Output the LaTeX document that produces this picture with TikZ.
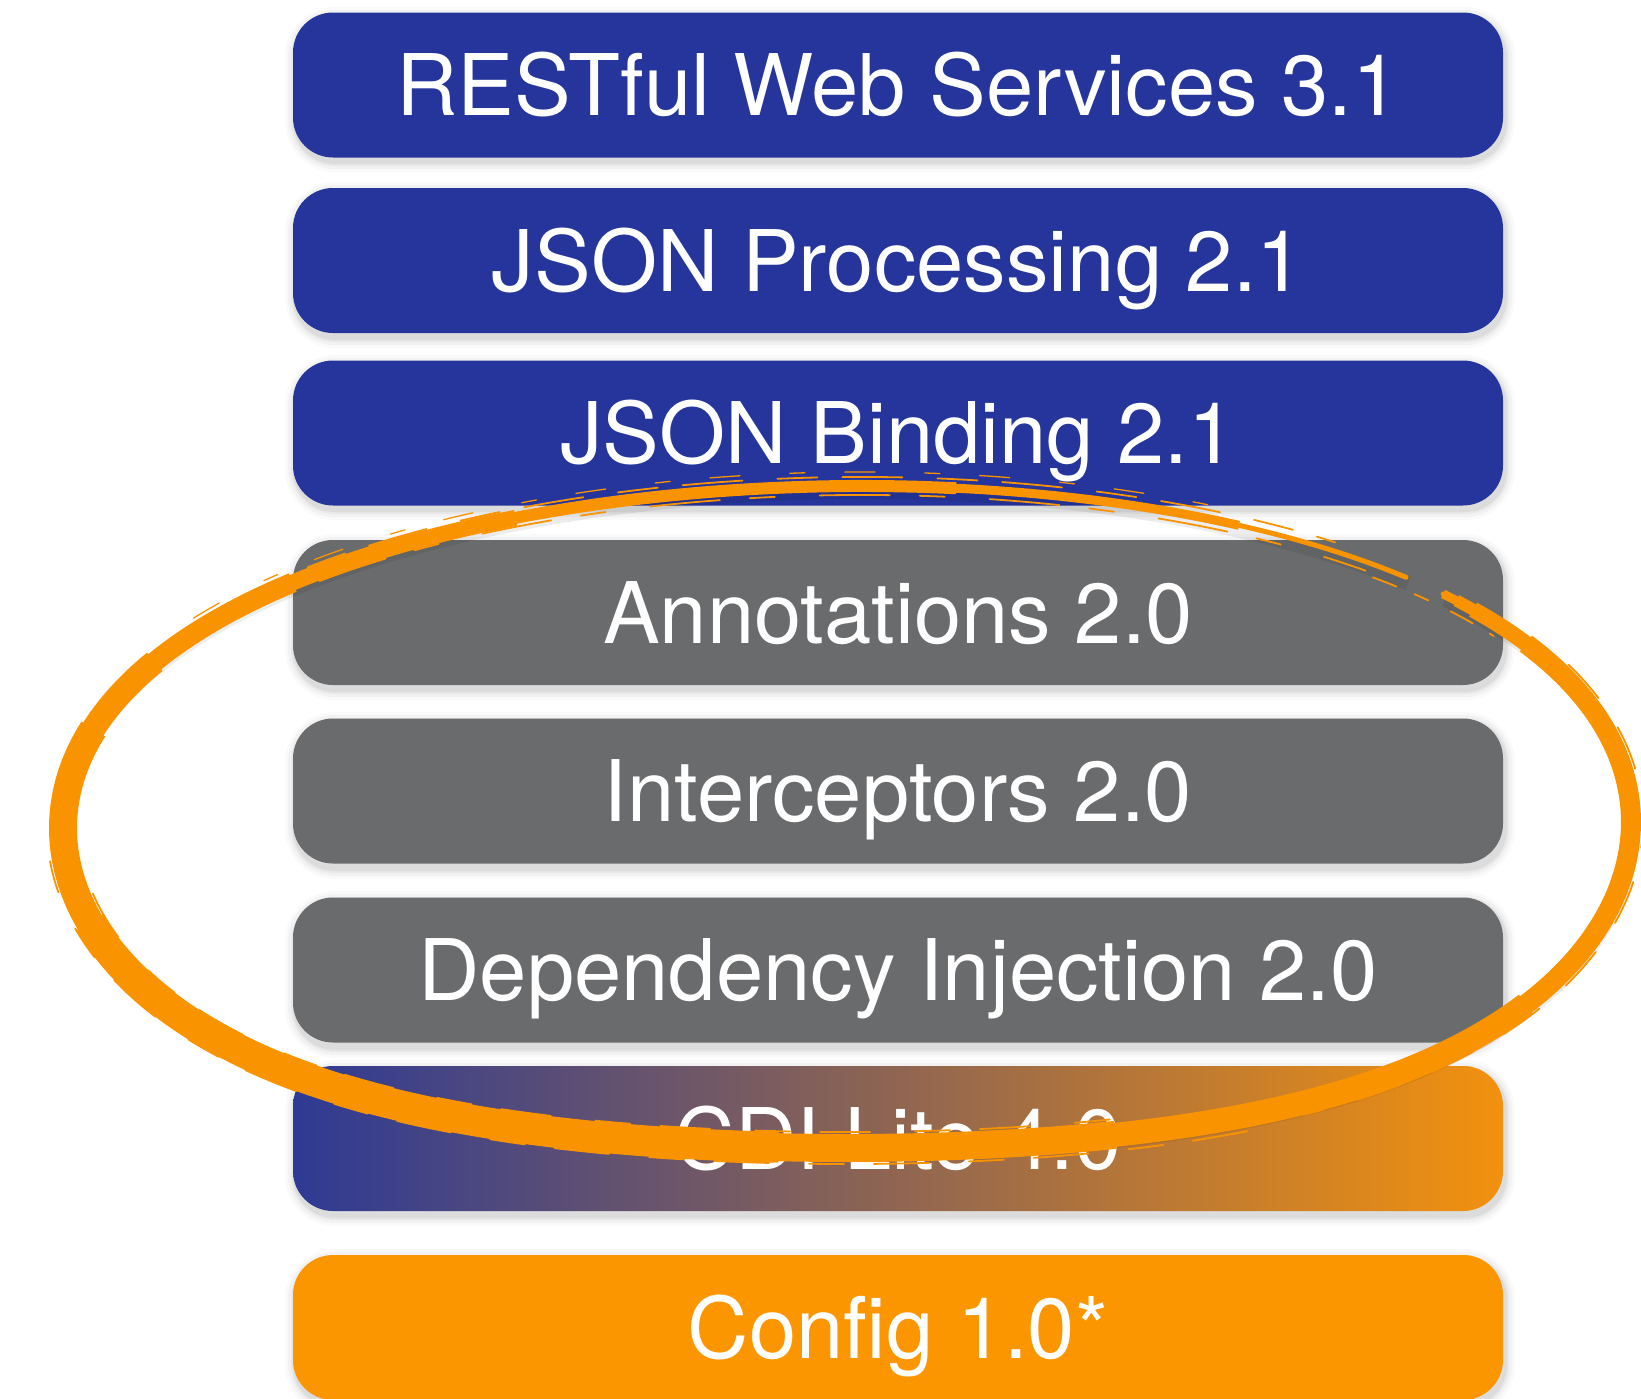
\documentclass[tikz,border=0pt]{standalone}
\usepackage{fontspec}
\setmainfont{TeX Gyre Heros}
\definecolor{jblue}{RGB}{37,53,156}
\definecolor{jgray}{RGB}{106,107,109}
\definecolor{jorange}{RGB}{251,150,0}
\definecolor{brushor}{RGB}{249,148,0}
\definecolor{cdil}{RGB}{46,58,148}
\definecolor{cdim}{RGB}{125,92,100}
\definecolor{cdir}{RGB}{242,145,14}
\tikzset{
  stackbox/.style={rounded corners=40pt, minimum width=1210pt, minimum height=145pt,
    inner sep=0pt, text=white, font=\fontsize{85}{100}\selectfont,
    text height=61pt, text depth=0pt},
  bluebox/.style={stackbox, fill=jblue},
  graybox/.style={stackbox, fill=jgray},
  orangebox/.style={stackbox, fill=jorange},
  cdibox/.style={stackbox, left color=cdil, middle color=cdim, right color=cdir},
  hair/.style={draw=brushor, line width=1.8pt, line cap=round},
  brushpart/.style={draw=brushor}
}
\newcommand\boxshade[2]{%
  \foreach \e/\o in {10/0.02,7/0.03,4/0.04,2/0.05}{%
    \pgfmathsetmacro\rr{40+\e}%
    \fill[black,opacity=\o,rounded corners=\rr pt] (295-\e,#1+4-\e) rectangle (1505+\e,#2+5+\e);}}
% brush loop: parameter range #1..#2 (degrees), radial offset #3
\newcommand\loopcurve[3]{plot[domain=#1:#2, samples=120, smooth, variable=\q]
  ({847+(784+#3)*cos(\q)},
   {825+(331-8*sin(\q)+#3)*sin(\q)*(1+(0.11+0.06*sin(\q))*cos(\q)*cos(\q))-3*cos(\q)*(1-sin(\q))})}
\begin{document}
\begin{tikzpicture}[x=1pt,y=-1pt]
\useasboundingbox (0,0) rectangle (1641,1398);
\clip (0,0) rectangle (1641,1398);
\fill[white] (0,0) rectangle (1641,1398);
% shadows
\boxshade{13}{157}
\boxshade{188}{333}
\boxshade{361}{505}
\boxshade{540}{685}
\boxshade{718}{864}
\boxshade{897}{1043}
\boxshade{1066}{1211}
\boxshade{1255}{1400}
% boxes
\node[bluebox] (rest) at (898,85) {RESTful Web Services 3.1};
\node[bluebox] (jsonp) at (898,260.5) {JSON Processing 2.1};
\node[bluebox] (jsonb) at (898,433) {JSON Binding 2.1};
\node[graybox] (annot) at (898,612.5) {Annotations 2.0};
\node[graybox] (inter) at (898,791) {Interceptors 2.0};
\node[graybox] (di) at (898,970) {Dependency Injection 2.0};
\node[cdibox] (cdi) at (898,1138.5) {CDI Lite 4.0};
\node[orangebox] (config) at (898,1327.5) {Config 1.0*};
% brush loop shadow
\begin{scope}[xshift=2pt,yshift=-6pt]
\draw[black,opacity=0.07,line width=14pt] \loopcurve{-40.5}{315.5}{0};
\end{scope}
% brush loop: stacked partial strokes give a tapering width
\draw[brushpart, line width=5pt, line cap=round] \loopcurve{-40.5}{315.5}{0};
\draw[brushpart, line width=9pt] \loopcurve{-40.5}{300}{0};
\draw[brushpart, line width=12pt] \loopcurve{-39}{278}{0};
\draw[brushpart, line width=16pt] \loopcurve{-37}{245}{0};
\draw[brushpart, line width=20pt] \loopcurve{-30}{225}{0};
\draw[brushpart, line width=24pt] \loopcurve{30}{208}{0};
\draw[brushpart, line width=28pt] \loopcurve{70}{196}{0};
\draw[brushpart, line width=31pt] \loopcurve{95}{165}{0};
% brush hairs
\draw[hair, dash pattern=on 70pt off 30pt on 25pt off 45pt] \loopcurve{185}{312}{-9};
\draw[hair, dash pattern=on 40pt off 25pt on 60pt off 35pt] \loopcurve{190}{308}{9};
\draw[hair, line width=1.3pt, dash pattern=on 30pt off 50pt on 15pt off 40pt] \loopcurve{215}{300}{14};
\draw[hair, dash pattern=on 55pt off 30pt on 35pt off 40pt] \loopcurve{60}{175}{16};
\draw[hair, dash pattern=on 35pt off 45pt on 50pt off 30pt] \loopcurve{70}{170}{-16};
\draw[hair, dash pattern=on 25pt off 20pt on 15pt off 25pt] \loopcurve{-47}{-33}{-13};
\draw[hair, dash pattern=on 45pt off 35pt] \loopcurve{-25}{55}{12};
\end{tikzpicture}
\end{document}
